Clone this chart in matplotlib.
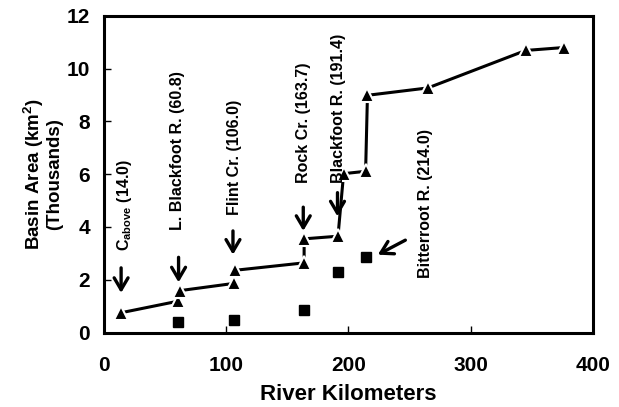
import matplotlib
matplotlib.use('Agg')
import matplotlib.pyplot as plt

plt.rcParams['font.family'] = 'Liberation Sans'
plt.rcParams['font.weight'] = 'bold'
plt.rcParams['mathtext.fontset'] = 'custom'
plt.rcParams['mathtext.bf'] = 'Liberation Sans:bold'
plt.rcParams['mathtext.rm'] = 'Liberation Sans:bold'

# Main stem basin area (triangles, connected)
main_km = [14.0, 60.8, 62.5, 106.0, 107.5, 163.7, 163.7, 191.4, 196.0, 214.0, 215.5, 265.0, 345.0, 376.0]
main_area = [0.75, 1.19, 1.59, 1.86, 2.36, 2.64, 3.55, 3.65, 6.02, 6.11, 8.99, 9.27, 10.69, 10.8]

# Tributary basin area (squares)
trib_km = [60.8, 106.0, 163.7, 191.4, 214.0]
trib_area = [0.39, 0.49, 0.87, 2.3, 2.85]

# Tributary labels and arrows
labels = [r'$\mathbf{C_{above}}$ (14.0)', 'L. Blackfoot R. (60.8)', 'Flint Cr. (106.0)',
          'Rock Cr. (163.7)', 'Blackfoot R. (191.4)', 'Bitterroot R. (214.0)']
label_x = [16.5, 60.5, 107.0, 163.0, 192.0, 263.0]
label_y = [3.1, 3.88, 4.45, 5.66, 5.66, 2.06]
arrow_tail = [(14.0, 2.45), (61.0, 2.85), (105.5, 3.85), (163.0, 4.75), (191.0, 5.3), (246.5, 3.5)]
arrow_tip = [(14.0, 1.5), (61.0, 1.9), (105.5, 2.95), (163.0, 3.85), (191.0, 4.4), (224.0, 2.95)]

fig = plt.figure(figsize=(6.19, 4.07), dpi=100)
ax = fig.add_axes([0.168, 0.183, 0.79, 0.778])

ax.plot(main_km, main_area, color='black', lw=2.2, marker='^', markersize=9.5,
        markerfacecolor='black', markeredgecolor='white', markeredgewidth=1.5)
ax.plot(trib_km, trib_area, ls='none', marker='s', markersize=7.5, color='black')

for lab, lx, ly in zip(labels, label_x, label_y):
    ax.text(lx, ly, lab, rotation=90, ha='center', va='bottom', fontsize=11.5, fontweight='bold')

for tail, tip in zip(arrow_tail, arrow_tip):
    ax.annotate('', xy=tip, xytext=tail,
                arrowprops=dict(arrowstyle='->,head_length=0.85,head_width=0.5', lw=2.4,
                                color='black', mutation_scale=10, shrinkA=0, shrinkB=0))

ax.set_xlim(0, 400)
ax.set_ylim(0, 12)
ax.set_xticks([0, 100, 200, 300, 400])
ax.set_yticks([0, 2, 4, 6, 8, 10, 12])
ax.tick_params(direction='in', length=5, width=1, labelsize=15)
ax.tick_params(axis='x', pad=17)
ax.tick_params(axis='y', pad=10)
for lbl in ax.get_xticklabels() + ax.get_yticklabels():
    lbl.set_fontweight('bold')
for sp in ax.spines.values():
    sp.set_linewidth(2.2)

ax.set_xlabel('River Kilometers', fontsize=16, fontweight='bold')
ax.xaxis.set_label_coords(0.5, -0.163)
ax.set_ylabel('Basin Area (km$^\\mathbf{2}$)\n(Thousands)', fontsize=13.5, fontweight='bold',
              linespacing=1.0)
ax.yaxis.set_label_coords(-0.083, 0.5)

fig.savefig('out.png', dpi=100)
